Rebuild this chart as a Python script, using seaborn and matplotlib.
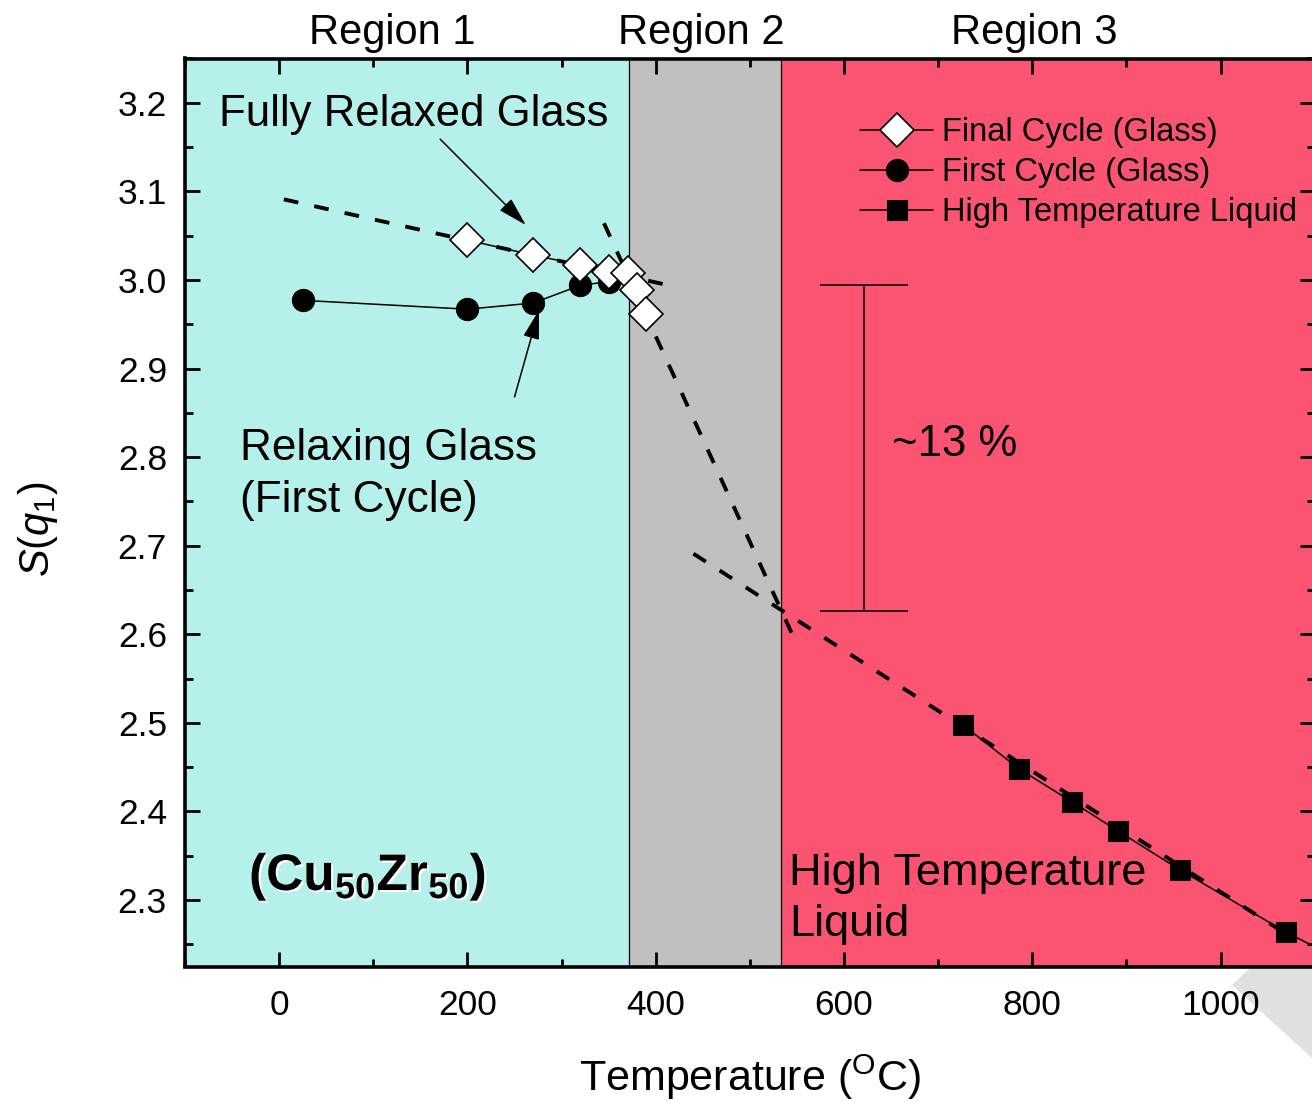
import matplotlib
matplotlib.use('Agg')
import matplotlib.pyplot as plt
import matplotlib.patheffects as pe
from matplotlib.patches import Polygon
from matplotlib.ticker import MultipleLocator, FormatStrFormatter
import seaborn as sns

# values
final_T = [200, 270, 320, 350, 370, 380, 390]
final_S = [3.045, 3.028, 3.017, 3.009, 3.008, 2.989, 2.962]

first_T = [25, 200, 270, 320, 350]
first_S = [2.977, 2.967, 2.974, 2.994, 2.998]

liquid_T = [726, 786, 842, 891, 957, 1069, 1130]
liquid_S = [2.498, 2.448, 2.411, 2.378, 2.334, 2.264, 2.231]

# dashed linear fits (end points)
glass_fit_T = [5, 422]
glass_fit_S = [3.091, 2.992]
scl_fit_T = [345, 551]
scl_fit_S = [3.064, 2.586]
liq_fit_T = [440, 1075]
liq_fit_S = [2.691, 2.258]

# the ~13 % bracket
bracket_T = 621
bracket_lo = 2.626
bracket_hi = 2.994

region_edges = [-100, 372, 533, 1100]
region_colors = ['#b5f0eb', '#c0c0c0', '#fb5473']
region_names = ['Region 1', 'Region 2', 'Region 3']
region_label_T = [120, 448, 802]

BLACK = '#000000'

sns.set_theme(style='ticks')
plt.rcParams['font.family'] = ['Liberation Sans', 'DejaVu Sans']
plt.rcParams['mathtext.fontset'] = 'custom'
plt.rcParams['mathtext.rm'] = 'Liberation Sans'
plt.rcParams['mathtext.it'] = 'Liberation Sans:italic'
plt.rcParams['mathtext.bf'] = 'Liberation Sans:bold'
for key in ['text.color', 'axes.labelcolor', 'xtick.color', 'ytick.color', 'axes.edgecolor']:
    plt.rcParams[key] = BLACK

fig = plt.figure(figsize=(13.12, 11.02), dpi=100)
fig.patch.set_facecolor('white')

# light grey wedge in the lower right corner of the page
fig.patches.append(Polygon([(1250 / 1312, 1 - 968 / 1102), (1.0, 1 - 968 / 1102),
                            (1.0, 1 - 1058 / 1102), (1232 / 1312, 1 - 985 / 1102)],
                           closed=True, transform=fig.transFigure,
                           facecolor='#e0e0e0', edgecolor='none', zorder=-1))

ax = fig.add_axes([185 / 1312, 1 - 966.5 / 1102, 1129.8 / 1312, 908 / 1102])

# shaded regions
for i in range(3):
    ax.axvspan(region_edges[i], region_edges[i + 1], color=region_colors[i], lw=0, zorder=0)
    ax.text(region_label_T[i], 3.2664, region_names[i], ha='center', va='baseline',
            fontsize=30, clip_on=False)
for edge in region_edges[1:3]:
    ax.axvline(edge, color=BLACK, lw=0.9, zorder=1)

# dashed fits
for tt, ss in [(glass_fit_T, glass_fit_S), (scl_fit_T, scl_fit_S), (liq_fit_T, liq_fit_S)]:
    sns.lineplot(x=tt, y=ss, ax=ax, color=BLACK, linewidth=2.8, linestyle=(0, (3.8, 4.2)),
                 estimator=None, sort=False, zorder=3)

# data series
sns.lineplot(x=final_T, y=final_S, ax=ax, color=BLACK, linewidth=1.1, marker='D', markersize=17,
             markerfacecolor='white', markeredgecolor=BLACK, markeredgewidth=1.2,
             label='Final Cycle (Glass)', estimator=None, sort=False, zorder=6)
sns.lineplot(x=first_T, y=first_S, ax=ax, color=BLACK, linewidth=1.1, marker='o', markersize=16,
             markerfacecolor=BLACK, markeredgecolor=BLACK,
             label='First Cycle (Glass)', estimator=None, sort=False, zorder=5)
sns.lineplot(x=liquid_T, y=liquid_S, ax=ax, color=BLACK, linewidth=1.1, marker='s', markersize=14.5,
             markerfacecolor=BLACK, markeredgecolor=BLACK,
             label='High Temperature Liquid', estimator=None, sort=False, zorder=5)

# bracket
ax.errorbar([bracket_T], [(bracket_lo + bracket_hi) / 2], yerr=[(bracket_hi - bracket_lo) / 2],
            fmt='none', ecolor=BLACK, elinewidth=1.1, capsize=32, capthick=1.1, zorder=4)
ax.text(651, 2.801, '~13 %', fontsize=31.5, va='baseline', ha='left')

# annotations
arrow = dict(arrowstyle='-|>,head_length=0.9,head_width=0.25', color=BLACK, lw=1.1,
             shrinkA=0, shrinkB=0, mutation_scale=20)
ax.text(-64, 3.174, 'Fully Relaxed Glass', fontsize=31.5, va='baseline', ha='left')
ax.annotate('', xy=(262, 3.062), xytext=(171, 3.159), arrowprops=arrow, zorder=7)
ax.text(-42, 2.738, 'Relaxing Glass\n(First Cycle)', fontsize=31.8, va='baseline',
        ha='left', linespacing=1.36)
ax.annotate('', xy=(276, 2.966), xytext=(250, 2.868), arrowprops=arrow, zorder=7)
ax.text(542, 2.259, 'High Temperature\nLiquid', fontsize=32.5, va='baseline', ha='left',
        linespacing=1.33)
ax.text(-32, 2.311, r'$\mathbf{(Cu_{50}Zr_{50})}$', fontsize=37, va='baseline', ha='left',
        path_effects=[pe.SimplePatchShadow(offset=(1.5, -1.5), shadow_rgbFace='white', alpha=1.0),
                      pe.Normal()])

# axes styling
ax.set_xlim(-100, 1100)
ax.set_ylim(2.225, 3.25)
ax.xaxis.set_major_locator(MultipleLocator(200))
ax.xaxis.set_minor_locator(MultipleLocator(100))
ax.yaxis.set_major_locator(MultipleLocator(0.1))
ax.yaxis.set_minor_locator(MultipleLocator(0.05))
ax.yaxis.set_major_formatter(FormatStrFormatter('%.1f'))
ax.tick_params(which='both', direction='in', top=True, right=True, width=2, colors=BLACK)
ax.tick_params(which='major', length=11)
ax.tick_params(which='minor', length=6)
ax.tick_params(axis='x', which='major', labelsize=25.5, pad=16)
ax.tick_params(axis='y', which='major', labelsize=25.5, pad=13)
for sp in ax.spines.values():
    sp.set_linewidth(2.6)
    sp.set_color(BLACK)
ax.set_xlabel('')
ax.set_ylabel('')

fig.text(750 / 1312, 1 - 1091 / 1102, r'Temperature ($^{\mathrm{O}}$C)', fontsize=31,
         ha='center', va='baseline')
fig.text(38 / 1312, 1 - 529 / 1102, r'$S(q_{\mathit{1}})$', fontsize=30, rotation=90,
         ha='center', va='center')

ax.legend(loc='upper left', bbox_to_anchor=((860 - 185) / 1129.8, (966.5 - 117) / 908),
          frameon=False, fontsize=23.5, handlelength=2.25, handletextpad=0.25,
          borderpad=0, borderaxespad=0, labelspacing=0.28)

fig.savefig('out.png', dpi=100)
